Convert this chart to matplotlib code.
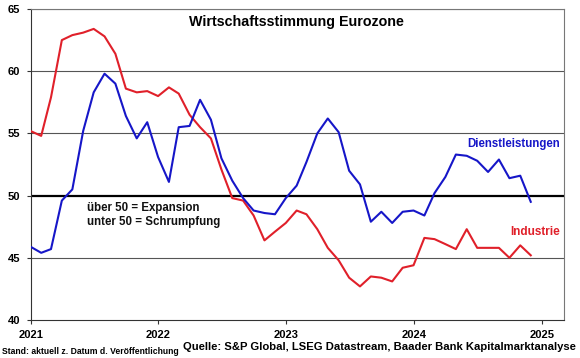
import matplotlib
matplotlib.use("Agg")
import matplotlib.pyplot as plt
import pandas as pd

plt.rcParams['font.family'] = ['Liberation Sans', 'DejaVu Sans']

# Monthly data, Dec 2020 .. Nov 2024
dates = pd.date_range("2020-12-31", periods=48, freq="ME")
dienstleistungen = [45.9, 45.4, 45.7, 49.6, 50.5, 55.2, 58.3, 59.8, 59.0, 56.4, 54.6, 55.9,
                    53.1, 51.1, 55.5, 55.6, 57.7, 56.1, 53.0, 51.2, 49.8, 48.8, 48.6, 48.5,
                    49.8, 50.8, 52.7, 55.0, 56.2, 55.1, 52.0, 50.9, 47.9, 48.7, 47.8, 48.7,
                    48.8, 48.4, 50.2, 51.5, 53.3, 53.2, 52.8, 51.9, 52.9, 51.4, 51.6, 49.5]
industrie = [55.2, 54.8, 57.9, 62.5, 62.9, 63.1, 63.4, 62.8, 61.4, 58.6, 58.3, 58.4,
             58.0, 58.7, 58.2, 56.5, 55.5, 54.6, 52.1, 49.8, 49.6, 48.4, 46.4, 47.1,
             47.8, 48.8, 48.5, 47.3, 45.8, 44.8, 43.4, 42.7, 43.5, 43.4, 43.1, 44.2,
             44.4, 46.6, 46.5, 46.1, 45.7, 47.3, 45.8, 45.8, 45.8, 45.0, 46.0, 45.2]
year_ticks = ["2021", "2022", "2023", "2024", "2025"]
y_ticks = [40, 45, 50, 55, 60, 65]

BLUE = "#1616c8"
RED = "#e0202a"

fig = plt.figure(figsize=(5.8, 3.58), dpi=100)
ax = fig.add_axes([30.7 / 580, 1 - 320 / 358, (564 - 30.7) / 580, (320 - 9) / 358])

for yv in [45, 55, 60, 65]:
    ax.axhline(yv, color="#555555", lw=0.8, zorder=1)
ax.axhline(50, color="black", lw=1.6, zorder=1)

ax.plot(dates, industrie, color=RED, lw=1.5, zorder=3)
ax.plot(dates, dienstleistungen, color=BLUE, lw=1.5, zorder=4)

ax.set_ylim(40, 65)
ax.set_yticks(y_ticks)
ax.set_xlim(pd.Timestamp("2021-01-01"), pd.Timestamp("2025-03-05"))
ax.set_xticks([pd.Timestamp(f"{y}-01-01") for y in year_ticks])
ax.set_xticklabels(year_ticks)
ax.tick_params(axis="both", labelsize=8, length=3, width=0.8, color="#333333")
ax.tick_params(axis="y", pad=4.5)
ax.tick_params(axis="x", pad=4)
for lab in ax.get_xticklabels() + ax.get_yticklabels():
    lab.set_fontweight("bold")

for side in ["top", "right"]:
    ax.spines[side].set_color("#777777")
    ax.spines[side].set_linewidth(0.8)
for side in ["left", "bottom"]:
    ax.spines[side].set_color("#333333")
    ax.spines[side].set_linewidth(0.8)

fig.text(296 / 580, 1 - 22 / 358, "Wirtschaftsstimmung Eurozone", ha="center", va="center",
         fontsize=10.3, fontweight="bold")
fig.text(560 / 580, 1 - 144 / 358, "Dienstleistungen", ha="right", va="center",
         fontsize=8.3, fontweight="bold", color=BLUE)
fig.text(560 / 580, 1 - 232 / 358, "Industrie", ha="right", va="center",
         fontsize=8.5, fontweight="bold", color=RED)
fig.text(87 / 580, 1 - 208 / 358, "über 50 = Expansion", ha="left", va="center",
         fontsize=8.3, fontweight="bold", color="#111111")
fig.text(87 / 580, 1 - 222 / 358, "unter 50 = Schrumpfung", ha="left", va="center",
         fontsize=8.3, fontweight="bold", color="#111111")
fig.text(2 / 580, 1 - 351 / 358, "Stand: aktuell z. Datum d. Veröffentlichung", ha="left", va="center",
         fontsize=6.2, fontweight="bold")
fig.text(576 / 580, 1 - 347 / 358, "Quelle: S&P Global, LSEG Datastream, Baader Bank Kapitalmarktanalyse",
         ha="right", va="center", fontsize=8.1, fontweight="bold")

fig.savefig("out.png", dpi=100)
